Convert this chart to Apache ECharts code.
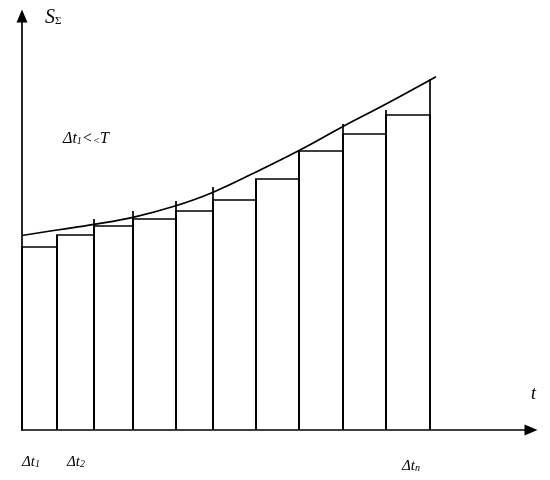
<!DOCTYPE html>
<html>
<head>
<meta charset="utf-8">
<script src="https://cdn.jsdelivr.net/npm/echarts@6/dist/echarts.min.js"></script>
<style>
  html, body { margin: 0; background: #fff; }
  #chart { width: 550px; height: 480px; }
</style>
</head>
<body>
<div id="chart"></div>
<script>
// t-axis edges of the Δt intervals and the step heights
var edges = [0, 35, 72, 111, 154, 191, 234, 277, 321, 364, 408];
var heights = [183, 195, 204, 211, 219, 230, 251, 279, 296, 315];
// divider lines poke up past the steps at edges[1..10]
var edgeTops = [195, 211, 219, 229, 243, 251, 280, 306, 320, 351];
// the S curve
var curveT = [0, 35, 72, 111, 153, 190, 234, 278, 321, 364, 414];
var curveS = [194.5, 200, 205.7, 212.7, 224, 237.3, 258, 280, 303.5, 326, 353.3];
// Δt labels under the axis
var labelT = [9, 54, 389];
var labelSub = ['1', '2', 'n'];

var serif = '"Liberation Serif", "DejaVu Serif", serif';
var ink = '#000';
var lw = 1.7;

var barData = [];
for (var i = 0; i < heights.length; i++) {
  barData.push([edges[i], edges[i + 1], heights[i]]);
}
var edgeData = [];
for (var j = 0; j < edgeTops.length; j++) {
  edgeData.push([edges[j + 1], edgeTops[j]]);
}
var curveData = curveT.map(function (t, k) { return [t, curveS[k]]; });
var labelData = labelT.map(function (t, k) { return [t, 0]; });

var chart = echarts.init(document.getElementById('chart'));

chart.setOption({
  animation: false,
  backgroundColor: '#fff',
  grid: { left: 22, right: 19, top: 16, bottom: 50 },
  xAxis: {
    type: 'value', min: 0, max: 509,
    axisLine: { onZero: false, lineStyle: { color: ink, width: lw }, symbol: ['none', 'triangle'], symbolSize: [11, 13] },
    axisTick: { show: false }, axisLabel: { show: false }, splitLine: { show: false }
  },
  yAxis: {
    type: 'value', min: 0, max: 414,
    axisLine: { onZero: false, lineStyle: { color: ink, width: lw }, symbol: ['none', 'triangle'], symbolSize: [11, 13] },
    axisTick: { show: false }, axisLabel: { show: false }, splitLine: { show: false }
  },
  series: [
    {
      type: 'custom',
      data: barData,
      encode: { x: [0, 1], y: 2 },
      renderItem: function (params, api) {
        var x0 = api.value(0), x1 = api.value(1), h = api.value(2);
        return {
          type: 'polyline',
          shape: { points: [api.coord([x0, 0]), api.coord([x0, h]), api.coord([x1, h]), api.coord([x1, 0])] },
          style: { stroke: ink, lineWidth: lw, fill: null }
        };
      }
    },
    {
      type: 'custom',
      data: edgeData,
      encode: { x: 0, y: 1 },
      renderItem: function (params, api) {
        var a = api.coord([api.value(0), 0]);
        var b = api.coord([api.value(0), api.value(1)]);
        return {
          type: 'line',
          shape: { x1: a[0], y1: a[1], x2: b[0], y2: b[1] },
          style: { stroke: ink, lineWidth: lw }
        };
      }
    },
    {
      type: 'line',
      data: curveData,
      smooth: 0.4,
      symbol: 'none',
      lineStyle: { color: ink, width: lw }
    },
    {
      type: 'custom',
      data: labelData,
      encode: { x: 0, y: 1 },
      renderItem: function (params, api) {
        var p = api.coord([api.value(0), 0]);
        var sub = labelSub[params.dataIndex];
        // the last label sits a touch lower
        var dy = params.dataIndex === labelSub.length - 1 ? 36 : 32;
        return {
          type: 'text',
          x: p[0], y: p[1] + dy,
          style: {
            text: '{a|Δt}{b|' + sub + '}',
            align: 'center', verticalAlign: 'middle',
            rich: {
              a: { font: 'italic 15px ' + serif, fill: ink },
              b: { font: 'italic 10px ' + serif, fill: ink, padding: [5, 0, 0, 0] }
            }
          }
        };
      }
    }
  ],
  graphic: [
    {
      type: 'text', left: 45, top: 8,
      style: {
        text: '{s|S}{g|Σ}',
        rich: {
          s: { font: 'italic 20px ' + serif, fill: ink },
          g: { font: '11px ' + serif, fill: ink, padding: [7, 0, 0, 0] }
        }
      }
    },
    {
      type: 'text', left: 63, top: 131,
      style: {
        text: '{a|Δt}{b|1}{a|<}{c|<}{a|T}',
        rich: {
          a: { font: 'italic 16px ' + serif, fill: ink },
          b: { font: 'italic 10px ' + serif, fill: ink, padding: [5, 0, 0, 0] },
          c: { font: 'italic 11px ' + serif, fill: ink, padding: [4, 0, 0, 0] }
        }
      }
    },
    {
      type: 'text', left: 531, top: 385,
      style: { text: 't', font: 'italic 18px ' + serif, fill: ink }
    }
  ]
});
</script>
</body>
</html>
